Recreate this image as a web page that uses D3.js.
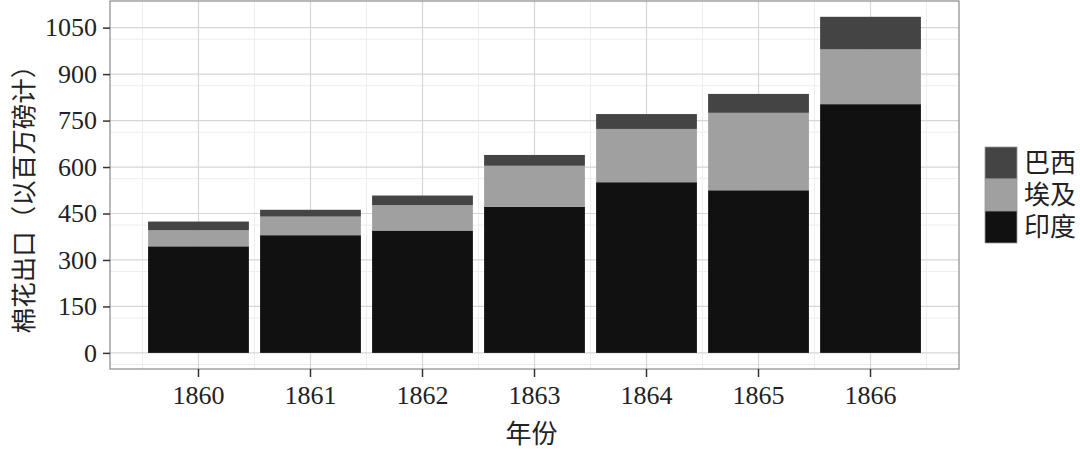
<!DOCTYPE html>
<html>
<head>
<meta charset="utf-8">
<script src="https://cdn.jsdelivr.net/npm/d3@7"></script>
<style>
  body { margin: 0; background: #fff; }
  text { font-family: "Liberation Serif", "Noto Sans CJK SC", serif; fill: #222; }
</style>
</head>
<body>
<svg width="1080" height="457"></svg>
<script>
var years = ['1860', '1861', '1862', '1863', '1864', '1865', '1866'];
var india = [344, 380, 395, 472, 551, 525, 803];
var egypt = [52, 60, 82, 132, 172, 250, 177];
var brazil = [28, 22, 31, 35, 48, 61, 105];
var seriesNames = ['印度', '埃及', '巴西'];
var seriesColors = ['#111111', '#a0a0a0', '#444444'];
var yTicks = [0, 150, 300, 450, 600, 750, 900, 1050];

var width = 1080, height = 457;
var margin = {top: 1, right: 121, bottom: 88, left: 110};

var svg = d3.select('svg');

// build rows for the stack
var data = years.map((y, i) => ({year: y, '印度': india[i], '埃及': egypt[i], '巴西': brazil[i]}));
var stacked = d3.stack().keys(seriesNames)(data);

var xScale = d3.scaleBand()
  .domain(years)
  .range([margin.left, width - margin.right])
  .paddingInner(0.1)
  .paddingOuter(0.34);

var yScale = d3.scaleLinear()
  .domain([-52, 1136])
  .range([height - margin.bottom, margin.top]);

var x0 = margin.left, x1 = width - margin.right;
var y0 = height - margin.bottom, y1 = margin.top;

// grid: minor lines first
var minorY = d3.range(-37.5, 1136, 150);
svg.append('g').selectAll('line').data(minorY).join('line')
  .attr('x1', x0).attr('x2', x1)
  .attr('y1', d => yScale(d)).attr('y2', d => yScale(d))
  .attr('stroke', '#ededed').attr('stroke-width', 1);

var step = xScale.step();
var minorX = years.map(y => xScale(y) + xScale.bandwidth() / 2 - step / 2)
  .concat([xScale(years[years.length - 1]) + xScale.bandwidth() / 2 + step / 2]);
svg.append('g').selectAll('line').data(minorX).join('line')
  .attr('x1', d => d).attr('x2', d => d)
  .attr('y1', y0).attr('y2', y1)
  .attr('stroke', '#ededed').attr('stroke-width', 1);

// major lines
svg.append('g').selectAll('line').data(yTicks).join('line')
  .attr('x1', x0).attr('x2', x1)
  .attr('y1', d => yScale(d)).attr('y2', d => yScale(d))
  .attr('stroke', '#d6d6d6').attr('stroke-width', 1.2);

svg.append('g').selectAll('line').data(years).join('line')
  .attr('x1', d => xScale(d) + xScale.bandwidth() / 2)
  .attr('x2', d => xScale(d) + xScale.bandwidth() / 2)
  .attr('y1', y0).attr('y2', y1)
  .attr('stroke', '#d6d6d6').attr('stroke-width', 1.2);

// bars
svg.append('g').selectAll('g').data(stacked).join('g')
  .attr('fill', (d, i) => seriesColors[i])
  .selectAll('rect').data(d => d).join('rect')
  .attr('x', d => xScale(d.data.year))
  .attr('width', xScale.bandwidth())
  .attr('y', d => yScale(d[1]))
  .attr('height', d => yScale(d[0]) - yScale(d[1]));

// panel border
svg.append('rect')
  .attr('x', x0).attr('y', y1)
  .attr('width', x1 - x0).attr('height', y0 - y1)
  .attr('fill', 'none').attr('stroke', '#8a8a8a').attr('stroke-width', 1.2);

// axes
var yAxis = d3.axisLeft(yScale).tickValues(yTicks).tickFormat(d3.format('d')).tickSize(7).tickPadding(6);
var gy = svg.append('g')
  .attr('transform', 'translate(' + [x0, 0] + ')')
  .call(yAxis);
gy.select('.domain').remove();
gy.selectAll('line').attr('stroke', '#333').attr('stroke-width', 1.5);
gy.selectAll('text').attr('font-size', 26).attr('fill', '#222')
  .attr('font-family', '"Liberation Serif", serif');

var xAxis = d3.axisBottom(xScale).tickSize(8).tickPadding(9);
var gx = svg.append('g')
  .attr('transform', 'translate(' + [0, y0] + ')')
  .call(xAxis);
gx.select('.domain').remove();
gx.selectAll('line').attr('stroke', '#333').attr('stroke-width', 1.5);
gx.selectAll('text').attr('font-size', 26).attr('fill', '#222')
  .attr('font-family', '"Liberation Serif", serif');

// axis titles
svg.append('text')
  .attr('x', (x0 + x1) / 2 - 3).attr('y', 443)
  .attr('text-anchor', 'middle')
  .attr('font-size', 26).attr('fill', '#333')
  .text('年份');

svg.append('text')
  .attr('transform', 'translate(33,' + ((y0 + y1) / 2 + 8) + ') rotate(-90)')
  .attr('text-anchor', 'middle')
  .attr('font-size', 25.5).attr('fill', '#333')
  .text('棉花出口（以百万磅计）');

// legend (reverse order like ggplot)
var legendOrder = [2, 1, 0];
var lg = svg.append('g').attr('transform', 'translate(985,147)');
lg.selectAll('rect').data(legendOrder).join('rect')
  .attr('x', 0).attr('y', (d, i) => i * 32)
  .attr('width', 32).attr('height', 32)
  .attr('fill', d => seriesColors[d])
  .attr('stroke', '#999').attr('stroke-width', 0.8);
lg.selectAll('text').data(legendOrder).join('text')
  .attr('x', 39).attr('y', (d, i) => i * 32 + 16)
  .attr('dy', '0.36em')
  .attr('font-size', 26).attr('fill', '#222')
  .text(d => seriesNames[d]);
</script>
</body>
</html>
